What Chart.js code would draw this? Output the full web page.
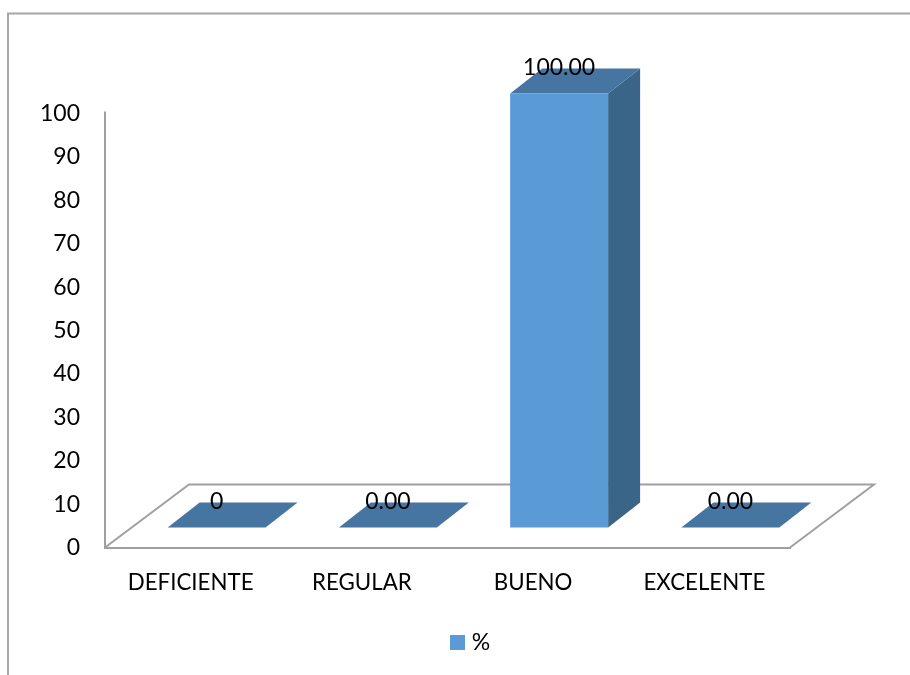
<!DOCTYPE html>
<html>
<head>
<meta charset="utf-8">
<style>html,body{margin:0;padding:0;background:#fff}canvas{display:block}</style>
<script src="https://cdn.jsdelivr.net/npm/chart.js@4"></script>
</head>
<body>
<canvas id="c" width="910" height="675" style="width:910px;height:675px"></canvas>
<script>
const categories = ['DEFICIENTE', 'REGULAR', 'BUENO', 'EXCELENTE'];
const seriesName = '%';
const values = [0, 0, 100, 0];
const valueLabels = ['0', '0.00', '100.00', '0.00'];

const FONT = 'Lato';
const FRONT = '#5B9BD5', TOP = '#4775A2', SIDE = '#3A6488', LINE = '#A0A0A0';
const BAR_SHIFT = {x: 26, y: -20}, BAR_DEPTH = {x: 32, y: -25}, FLOOR_DEPTH = {x: 84, y: -63};

const swatch = document.createElement('canvas');
swatch.width = 15; swatch.height = 15;
const swatchCtx = swatch.getContext('2d');
swatchCtx.fillStyle = FRONT;
swatchCtx.fillRect(0, 0, 15, 15);

function poly(ctx, pts, fill) {
  ctx.beginPath();
  pts.forEach((p, i) => i ? ctx.lineTo(p[0], p[1]) : ctx.moveTo(p[0], p[1]));
  ctx.closePath();
  ctx.fillStyle = fill;
  ctx.fill();
}

const threeD = {
  id: 'threeD',
  beforeDraw(chart) {
    const ctx = chart.ctx;
    ctx.save();
    ctx.strokeStyle = '#A6A6A6';
    ctx.lineWidth = 2;
    ctx.beginPath();
    ctx.moveTo(8, 675); ctx.lineTo(8, 13.5); ctx.lineTo(910, 13.5);
    ctx.stroke();
    ctx.restore();
  },
  beforeDatasetsDraw(chart) {
    const ctx = chart.ctx, a = chart.chartArea;
    ctx.save();
    ctx.strokeStyle = LINE;
    ctx.lineWidth = 2;
    ctx.beginPath();
    ctx.moveTo(a.left, a.top - 2);
    ctx.lineTo(a.left, a.top);
    ctx.moveTo(a.left, a.bottom);
    ctx.lineTo(a.left + FLOOR_DEPTH.x, a.bottom + FLOOR_DEPTH.y);
    ctx.lineTo(a.right + FLOOR_DEPTH.x, a.bottom + FLOOR_DEPTH.y);
    ctx.lineTo(a.right, a.bottom);
    ctx.stroke();
    chart.getDatasetMeta(0).data.forEach(el => {
      const l = el.x - el.width / 2 + BAR_SHIFT.x, r = el.x + el.width / 2 + BAR_SHIFT.x;
      const t = el.y + BAR_SHIFT.y, b = el.base + BAR_SHIFT.y;
      const dx = BAR_DEPTH.x, dy = BAR_DEPTH.y;
      poly(ctx, [[r, t], [r + dx, t + dy], [r + dx, b + dy], [r, b]], SIDE);
      poly(ctx, [[l, t], [r, t], [r + dx, t + dy], [l + dx, t + dy]], TOP);
    });
    ctx.restore();
  },
  beforeDatasetDraw(chart) {
    chart.ctx.save();
    chart.ctx.translate(BAR_SHIFT.x, BAR_SHIFT.y);
  },
  afterDatasetDraw(chart) {
    chart.ctx.restore();
  },
  afterDatasetsDraw(chart) {
    const ctx = chart.ctx;
    ctx.save();
    ctx.font = '23px ' + FONT;
    ctx.fillStyle = '#000';
    ctx.textAlign = 'center';
    ctx.textBaseline = 'middle';
    chart.getDatasetMeta(0).data.forEach((el, i) => {
      ctx.fillText(valueLabels[i], el.x + BAR_SHIFT.x, el.y + BAR_SHIFT.y - 25.5);
    });
    ctx.restore();
  }
};

new Chart(document.getElementById('c'), {
  type: 'bar',
  data: {
    labels: categories,
    datasets: [{
      label: seriesName,
      data: values,
      backgroundColor: FRONT,
      borderWidth: 0,
      barPercentage: 0.572,
      categoryPercentage: 1,
      clip: false
    }]
  },
  plugins: [threeD],
  options: {
    responsive: false,
    animation: false,
    layout: {padding: {left: 34.5, right: 0, top: 113.5, bottom: 11}},
    plugins: {
      tooltip: {enabled: false},
      legend: {
        position: 'bottom',
        labels: {
          usePointStyle: true,
          pointStyle: swatch,
          pointStyleWidth: 6,
          boxHeight: 15, padding: 10,
          color: '#000',
          font: {family: FONT, size: 23}
        }
      }
    },
    scales: {
      x: {
        grid: {display: false, drawTicks: false},
        border: {display: true, color: LINE, width: 2},
        ticks: {color: '#000', padding: 21.5, maxRotation: 0, autoSkip: false, font: {family: FONT, size: 22.3}},
        afterFit(s) { s.height = 73.5; }
      },
      y: {
        min: 0, max: 100,
        grid: {display: false, drawTicks: false},
        border: {display: true, color: LINE, width: 2},
        ticks: {stepSize: 10, color: '#000', padding: 25, font: {family: FONT, size: 23}},
        afterFit(s) { s.width = 70.5; }
      },
      spacer: {
        position: 'right',
        display: true,
        grid: {display: false, drawTicks: false},
        border: {display: false},
        ticks: {display: false},
        afterFit(s) { s.width = 120; }
      }
    }
  }
});
</script>
</body>
</html>
